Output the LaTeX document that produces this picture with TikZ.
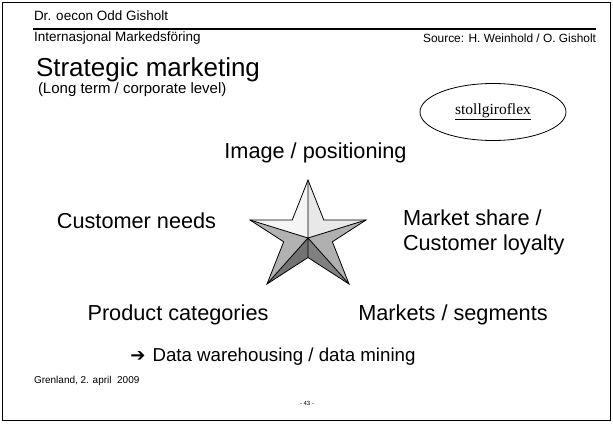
\documentclass[tikz,border=0pt]{standalone}
\usepackage{fontspec}
\setmainfont{Liberation Sans}
\newfontfamily\timesf{Liberation Serif}
\newfontfamily\djv{DejaVu Sans}
\usetikzlibrary{shapes.geometric}
\begin{document}
\begin{tikzpicture}[x=1pt,y=-1pt,
  txt/.style={inner sep=0pt,outer sep=0pt},
  small/.style={txt,font=\fontsize{13.5}{16}\selectfont},
  label/.style={txt,font=\fontsize{21.7}{25}\selectfont}]
\useasboundingbox (0,0) rectangle (613,423);
% frame
\draw[line width=1.5pt] (2.5,2.5) rectangle (610.5,420.5);
% header
\node[small,anchor=west] (dr) at (34,16) {Dr. oecon Odd Gisholt};
\coordinate (hl) at (33,29);
\coordinate (hr) at (596,29);
\draw[line width=2.5pt] (hl) -- (hr);
\node[small,anchor=west] (intern) at (34,38) {Internasjonal Markedsföring};
\node[txt,anchor=east,font=\fontsize{11.9}{14}\selectfont] (src) at (596,38) {Source: H. Weinhold / O. Gisholt};
% title
\node[txt,anchor=west,font=\fontsize{26}{30}\selectfont] (title) at (36,69.5) {Strategic marketing};
\node[txt,anchor=west,font=\fontsize{15}{18}\selectfont] (sub) at (38,90) {(Long term / corporate level)};
% brand ellipse
\node[ellipse,draw,line width=0.8pt,minimum width=146pt,minimum height=57pt,inner sep=0pt,font=\timesf\fontsize{15.5}{18}\selectfont] (brand) at (493,112) {\underline{stollgiroflex}};
% star
\coordinate (T) at (308,180);
\coordinate (L) at (250,220);
\coordinate (R) at (366,220);
\coordinate (BL) at (267,284);
\coordinate (BR) at (349,284);
\coordinate (C) at (308,238);
\coordinate (iUL) at (intersection of T--BL and L--R);
\coordinate (iUR) at (intersection of T--BR and L--R);
\coordinate (iBL) at (intersection of T--BL and L--BR);
\coordinate (iBR) at (intersection of T--BR and R--BL);
\coordinate (iB) at (intersection of L--BR and R--BL);
\fill[fill=black!4] (C) -- (T) -- (iUL) -- (L) -- cycle;
\fill[fill=black!9] (C) -- (T) -- (iUR) -- (R) -- cycle;
\fill[fill=black!30] (C) -- (L) -- (iBL) -- (BL) -- cycle;
\fill[fill=black!55] (C) -- (BL) -- (iB) -- cycle;
\fill[fill=black!50] (C) -- (iB) -- (BR) -- cycle;
\fill[fill=black!31] (C) -- (BR) -- (iBR) -- (R) -- cycle;
\draw[line width=0.8pt,line join=miter] (T) -- (iUR) -- (R) -- (iBR) -- (BR) -- (iB) -- (BL) -- (iBL) -- (L) -- (iUL) -- cycle;
\draw[line width=0.8pt] (C) -- (T) (C) -- (L) (C) -- (R) (C) -- (BL) (C) -- (BR) (C) -- (iB);
% labels
\node[label] (img) at (315.5,152.5) {Image / positioning};
\node[label] (cn) at (136.5,221) {Customer needs};
\node[label,anchor=west,align=left] (ms) at (403,232.5) {Market share /\\Customer loyalty};
\node[label] (pc) at (178,315) {Product categories};
\node[label] (mk) at (453,315) {Markets / segments};
\node[txt,font=\fontsize{18.7}{22}\selectfont] (dw) at (273,357) {{\djv\fontsize{18}{22}\selectfont ➔}\hspace{7pt}Data warehousing / data mining};
% footer
\node[txt,anchor=west,font=\fontsize{10}{12}\selectfont] (gr) at (34,381) {Grenland, 2. april\ \ 2009};
\node[txt,font=\fontsize{6}{7}\selectfont] (pg) at (307,403) {- 43 -};
\end{tikzpicture}
\end{document}
